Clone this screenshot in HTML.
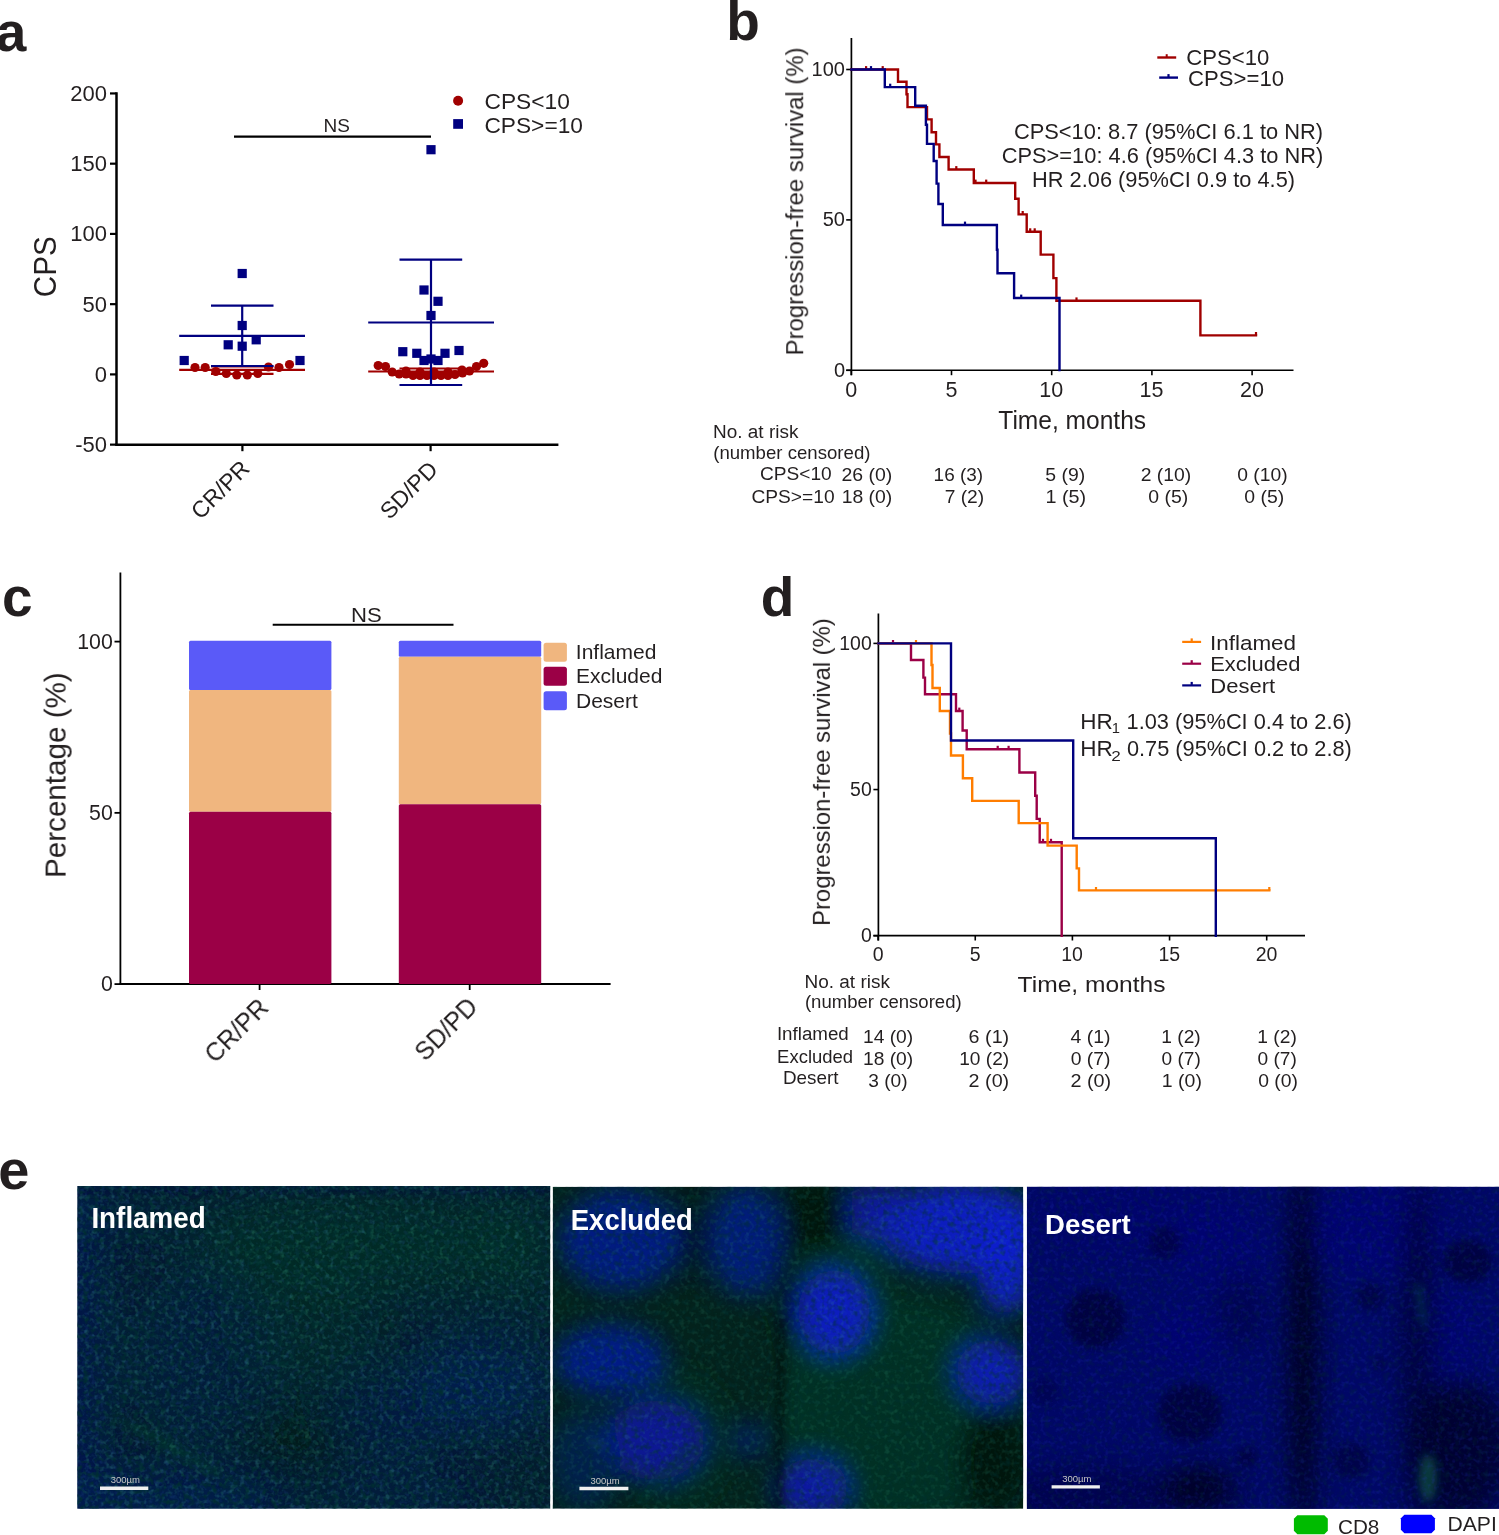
<!DOCTYPE html>
<html><head><meta charset="utf-8"><style>
html,body{margin:0;padding:0;background:#fff;}
svg{display:block;font-family:"Liberation Sans",sans-serif;}
</style></head><body>
<svg width="1499" height="1535" viewBox="0 0 1499 1535">
<defs><clipPath id="c1"><rect x="77.3" y="1186" width="473" height="322.7"/></clipPath><filter id="spg" x="0" y="0" width="100%" height="100%"><feTurbulence type="fractalNoise" baseFrequency="0.2" numOctaves="2" seed="7"/><feColorMatrix type="matrix" values="0 0 0 0 0.04  0 0 0 0 0.36  0 0 0 0 0.22  3.2 0 0 0 -1.55"/></filter><filter id="spb" x="0" y="0" width="100%" height="100%"><feTurbulence type="fractalNoise" baseFrequency="0.2" numOctaves="2" seed="19"/><feColorMatrix type="matrix" values="0 0 0 0 0.03  0 0 0 0 0.12  0 0 0 0 0.42  3.0 0 0 0 -1.45"/></filter><filter id="spk" x="0" y="0" width="100%" height="100%"><feTurbulence type="fractalNoise" baseFrequency="0.18" numOctaves="2" seed="31"/><feColorMatrix type="matrix" values="0 0 0 0 0  0 0 0 0 0.03  0 0 0 0 0.03  3.0 0 0 0 -1.4"/></filter><filter id="bl22" x="-50%" y="-50%" width="200%" height="200%"><feGaussianBlur stdDeviation="22"/></filter><filter id="bl5" x="-50%" y="-50%" width="200%" height="200%"><feGaussianBlur stdDeviation="5"/></filter><clipPath id="c2"><rect x="552.7" y="1186.7" width="470.5" height="322"/></clipPath><filter id="bl12" x="-50%" y="-50%" width="200%" height="200%"><feGaussianBlur stdDeviation="12"/></filter><filter id="bl4" x="-50%" y="-50%" width="200%" height="200%"><feGaussianBlur stdDeviation="4"/></filter><clipPath id="c3"><rect x="1026.8" y="1186.6" width="472.2" height="322.3"/></clipPath><filter id="sp3" x="0" y="0" width="100%" height="100%"><feTurbulence type="fractalNoise" baseFrequency="0.22" numOctaves="2" seed="5"/><feColorMatrix type="matrix" values="0 0 0 0 0.02  0 0 0 0 0.04  0 0 0 0 0.6  3.0 0 0 0 -1.45"/></filter></defs>
<line x1="116.5" y1="92.2" x2="116.5" y2="445.8" stroke="#000" stroke-width="2.5" stroke-linecap="butt"/>
<line x1="115.3" y1="444.8" x2="558.4" y2="444.8" stroke="#000" stroke-width="2.5" stroke-linecap="butt"/>
<line x1="110" y1="93.44" x2="116.5" y2="93.44" stroke="#000" stroke-width="2.2" stroke-linecap="butt"/>
<line x1="110" y1="163.67999999999998" x2="116.5" y2="163.67999999999998" stroke="#000" stroke-width="2.2" stroke-linecap="butt"/>
<line x1="110" y1="233.92" x2="116.5" y2="233.92" stroke="#000" stroke-width="2.2" stroke-linecap="butt"/>
<line x1="110" y1="304.15999999999997" x2="116.5" y2="304.15999999999997" stroke="#000" stroke-width="2.2" stroke-linecap="butt"/>
<line x1="110" y1="374.4" x2="116.5" y2="374.4" stroke="#000" stroke-width="2.2" stroke-linecap="butt"/>
<line x1="110" y1="444.64" x2="116.5" y2="444.64" stroke="#000" stroke-width="2.2" stroke-linecap="butt"/>
<line x1="242.4" y1="444.8" x2="242.4" y2="451.2" stroke="#000" stroke-width="2.2" stroke-linecap="butt"/>
<line x1="430.6" y1="444.8" x2="430.6" y2="451.2" stroke="#000" stroke-width="2.2" stroke-linecap="butt"/>
<line x1="234" y1="136.6" x2="431" y2="136.6" stroke="#000" stroke-width="2.2" stroke-linecap="butt"/>
<circle cx="458.1" cy="100.8" r="5" fill="#a00000"/>
<rect x="453.2" y="119.1" width="9.8" height="9.7" fill="#000080"/>
<circle cx="195" cy="367.5" r="4.6" fill="#a00000"/>
<circle cx="205.2" cy="367.5" r="4.6" fill="#a00000"/>
<circle cx="215.8" cy="371.5" r="4.6" fill="#a00000"/>
<circle cx="226.3" cy="373.5" r="4.6" fill="#a00000"/>
<circle cx="236.8" cy="375" r="4.6" fill="#a00000"/>
<circle cx="247.3" cy="375" r="4.6" fill="#a00000"/>
<circle cx="257.8" cy="373.5" r="4.6" fill="#a00000"/>
<circle cx="268.5" cy="367" r="4.6" fill="#a00000"/>
<circle cx="279" cy="367.5" r="4.6" fill="#a00000"/>
<circle cx="289.5" cy="364.5" r="4.6" fill="#a00000"/>
<line x1="179.2" y1="369.8" x2="305" y2="369.8" stroke="#a00000" stroke-width="2.2" stroke-linecap="butt"/>
<line x1="211" y1="373.8" x2="273.5" y2="373.8" stroke="#a00000" stroke-width="2.2" stroke-linecap="butt"/>
<line x1="211" y1="366.5" x2="273.5" y2="366.5" stroke="#a00000" stroke-width="2.2" stroke-linecap="butt"/>
<circle cx="378.2" cy="365.5" r="4.6" fill="#a00000"/>
<circle cx="385.5" cy="366.5" r="4.6" fill="#a00000"/>
<circle cx="392.2" cy="372" r="4.6" fill="#a00000"/>
<circle cx="399.2" cy="374" r="4.6" fill="#a00000"/>
<circle cx="406" cy="374" r="4.6" fill="#a00000"/>
<circle cx="413" cy="375.5" r="4.6" fill="#a00000"/>
<circle cx="420" cy="375.5" r="4.6" fill="#a00000"/>
<circle cx="427" cy="375.5" r="4.6" fill="#a00000"/>
<circle cx="434" cy="375.5" r="4.6" fill="#a00000"/>
<circle cx="441" cy="375.5" r="4.6" fill="#a00000"/>
<circle cx="448" cy="375.5" r="4.6" fill="#a00000"/>
<circle cx="455" cy="374.5" r="4.6" fill="#a00000"/>
<circle cx="462.5" cy="373" r="4.6" fill="#a00000"/>
<circle cx="469.5" cy="371" r="4.6" fill="#a00000"/>
<circle cx="476.5" cy="366.5" r="4.6" fill="#a00000"/>
<circle cx="483.7" cy="363.3" r="4.6" fill="#a00000"/>
<circle cx="406" cy="371" r="4.6" fill="#a00000"/>
<circle cx="420" cy="372" r="4.6" fill="#a00000"/>
<circle cx="434" cy="372" r="4.6" fill="#a00000"/>
<circle cx="448" cy="372" r="4.6" fill="#a00000"/>
<circle cx="462" cy="370" r="4.6" fill="#a00000"/>
<line x1="368.2" y1="371.5" x2="494" y2="371.5" stroke="#a00000" stroke-width="2.2" stroke-linecap="butt"/>
<line x1="399.5" y1="368.5" x2="462.2" y2="368.5" stroke="#a00000" stroke-width="2.2" stroke-linecap="butt"/>
<rect x="237.6" y="268.9" width="9.2" height="9.2" fill="#000080"/>
<rect x="237.6" y="320.9" width="9.2" height="9.2" fill="#000080"/>
<rect x="223.6" y="340.2" width="9.2" height="9.2" fill="#000080"/>
<rect x="237.6" y="341.6" width="9.2" height="9.2" fill="#000080"/>
<rect x="251.6" y="335.2" width="9.2" height="9.2" fill="#000080"/>
<rect x="179.6" y="355.9" width="9.2" height="9.2" fill="#000080"/>
<rect x="295.4" y="355.9" width="9.2" height="9.2" fill="#000080"/>
<line x1="179.2" y1="335.8" x2="305" y2="335.8" stroke="#000080" stroke-width="2.2" stroke-linecap="butt"/>
<line x1="211" y1="305.7" x2="273.5" y2="305.7" stroke="#000080" stroke-width="2.2" stroke-linecap="butt"/>
<line x1="211" y1="366" x2="273.5" y2="366" stroke="#000080" stroke-width="2.2" stroke-linecap="butt"/>
<line x1="242.2" y1="305.7" x2="242.2" y2="366" stroke="#000080" stroke-width="2.2" stroke-linecap="butt"/>
<rect x="426.4" y="145.1" width="9.2" height="9.2" fill="#000080"/>
<rect x="419.4" y="285.4" width="9.2" height="9.2" fill="#000080"/>
<rect x="433.4" y="296.7" width="9.2" height="9.2" fill="#000080"/>
<rect x="426.4" y="310.9" width="9.2" height="9.2" fill="#000080"/>
<rect x="398.2" y="347.1" width="9.2" height="9.2" fill="#000080"/>
<rect x="412.2" y="348.7" width="9.2" height="9.2" fill="#000080"/>
<rect x="419.4" y="355.9" width="9.2" height="9.2" fill="#000080"/>
<rect x="426.4" y="354.4" width="9.2" height="9.2" fill="#000080"/>
<rect x="433.4" y="355.9" width="9.2" height="9.2" fill="#000080"/>
<rect x="440.4" y="348.7" width="9.2" height="9.2" fill="#000080"/>
<rect x="454.4" y="345.9" width="9.2" height="9.2" fill="#000080"/>
<line x1="399.5" y1="259.7" x2="462.2" y2="259.7" stroke="#000080" stroke-width="2.2" stroke-linecap="butt"/>
<line x1="368.2" y1="322.5" x2="494" y2="322.5" stroke="#000080" stroke-width="2.2" stroke-linecap="butt"/>
<line x1="399.5" y1="385" x2="462.2" y2="385" stroke="#000080" stroke-width="2.2" stroke-linecap="butt"/>
<line x1="431" y1="259.7" x2="431" y2="385" stroke="#000080" stroke-width="2.2" stroke-linecap="butt"/>
<line x1="851.4" y1="38" x2="851.4" y2="375.2" stroke="#000" stroke-width="1.7" stroke-linecap="butt"/>
<line x1="846.2" y1="370.3" x2="1293.5" y2="370.3" stroke="#000" stroke-width="1.6" stroke-linecap="butt"/>
<line x1="846.2" y1="69.5" x2="851.4" y2="69.5" stroke="#000" stroke-width="1.6" stroke-linecap="butt"/>
<line x1="846.2" y1="219.9" x2="851.4" y2="219.9" stroke="#000" stroke-width="1.6" stroke-linecap="butt"/>
<line x1="846.2" y1="370.3" x2="851.4" y2="370.3" stroke="#000" stroke-width="1.6" stroke-linecap="butt"/>
<line x1="851.3" y1="370.3" x2="851.3" y2="375.2" stroke="#000" stroke-width="1.6" stroke-linecap="butt"/>
<line x1="951.5" y1="370.3" x2="951.5" y2="375.2" stroke="#000" stroke-width="1.6" stroke-linecap="butt"/>
<line x1="1051.6999999999998" y1="370.3" x2="1051.6999999999998" y2="375.2" stroke="#000" stroke-width="1.6" stroke-linecap="butt"/>
<line x1="1151.8999999999999" y1="370.3" x2="1151.8999999999999" y2="375.2" stroke="#000" stroke-width="1.6" stroke-linecap="butt"/>
<line x1="1252.1" y1="370.3" x2="1252.1" y2="375.2" stroke="#000" stroke-width="1.6" stroke-linecap="butt"/>
<path d="M851.4,69.5 L898.0,69.5 L898.0,81.8 L906.5,81.8 L906.5,94.3 L907.5,94.3 L907.5,107.1 L927.0,107.1 L927.0,119.4 L931.6,119.4 L931.6,132.2 L936.0,132.2 L936.0,144.4 L939.4,144.4 L939.4,157.0 L948.6,157.0 L948.6,169.5 L973.8,169.5 L973.8,183.0 L1015.2,183.0 L1015.2,198.7 L1018.6,198.7 L1018.6,214.4 L1026.7,214.4 L1026.7,231.7 L1040.7,231.7 L1040.7,254.6 L1053.4,254.6 L1053.4,278.1 L1056.4,278.1 L1056.4,300.8 L1200.4,300.8 L1200.4,335.4 L1256.0,335.4" fill="none" stroke="#a00000" stroke-width="2.4" stroke-linejoin="miter" stroke-linecap="square"/>
<rect x="865.0" y="66.1" width="2.2" height="3.4" fill="#a00000"/>
<rect x="881.6" y="66.1" width="2.2" height="3.4" fill="#a00000"/>
<rect x="955.2" y="166.1" width="2.2" height="3.4" fill="#a00000"/>
<rect x="974.4" y="179.6" width="2.2" height="3.4" fill="#a00000"/>
<rect x="985.1" y="179.6" width="2.2" height="3.4" fill="#a00000"/>
<rect x="1021.6" y="211.0" width="2.2" height="3.4" fill="#a00000"/>
<rect x="1029.1" y="228.3" width="2.2" height="3.4" fill="#a00000"/>
<rect x="1033.6" y="228.3" width="2.2" height="3.4" fill="#a00000"/>
<rect x="1075.4" y="297.4" width="2.2" height="3.4" fill="#a00000"/>
<rect x="1254.9" y="332.0" width="2.2" height="3.4" fill="#a00000"/>
<path d="M851.4,69.5 L884.8,69.5 L884.8,87.1 L915.2,87.1 L915.2,105.8 L925.9,105.8 L925.9,124.7 L927.0,124.7 L927.0,143.9 L933.7,143.9 L933.7,161.0 L936.6,161.0 L936.6,183.6 L938.4,183.6 L938.4,204.0 L942.8,204.0 L942.8,225.0 L996.9,225.0 L996.9,249.7 L997.5,249.7 L997.5,273.3 L1014.1,273.3 L1014.1,298.0 L1059.5,298.0 L1059.5,370.0" fill="none" stroke="#000080" stroke-width="2.4" stroke-linejoin="miter" stroke-linecap="square"/>
<rect x="869.9" y="66.1" width="2.2" height="3.4" fill="#000080"/>
<rect x="889.1" y="83.7" width="2.2" height="3.4" fill="#000080"/>
<rect x="963.9" y="221.6" width="2.2" height="3.4" fill="#000080"/>
<rect x="1020.1" y="294.6" width="2.2" height="3.4" fill="#000080"/>
<line x1="1157.3" y1="57.5" x2="1176.2" y2="57.5" stroke="#a00000" stroke-width="2.4" stroke-linecap="butt"/>
<rect x="1165.7" y="54.2" width="2" height="3" fill="#a00000"/>
<line x1="1159.2" y1="77.6" x2="1178" y2="77.6" stroke="#000080" stroke-width="2.4" stroke-linecap="butt"/>
<rect x="1167.4" y="74.1" width="2.2" height="3" fill="#000080"/>
<line x1="120.4" y1="572.5" x2="120.4" y2="985" stroke="#000" stroke-width="1.8" stroke-linecap="butt"/>
<line x1="119.5" y1="984.1" x2="610.6" y2="984.1" stroke="#000" stroke-width="2.0" stroke-linecap="butt"/>
<line x1="114.5" y1="641.6" x2="120.4" y2="641.6" stroke="#000" stroke-width="1.8" stroke-linecap="butt"/>
<line x1="114.5" y1="812.85" x2="120.4" y2="812.85" stroke="#000" stroke-width="1.8" stroke-linecap="butt"/>
<line x1="114.5" y1="984.1" x2="120.4" y2="984.1" stroke="#000" stroke-width="1.8" stroke-linecap="butt"/>
<line x1="259.6" y1="984.1" x2="259.6" y2="990" stroke="#000" stroke-width="1.8" stroke-linecap="butt"/>
<line x1="469.7" y1="984.1" x2="469.7" y2="990" stroke="#000" stroke-width="1.8" stroke-linecap="butt"/>
<rect x="189" y="640.7" width="142.39999999999998" height="49.299999999999955" rx="1.5" fill="#5a5af8"/>
<rect x="189" y="690" width="142.39999999999998" height="121.79999999999995" rx="1.5" fill="#f0b67f"/>
<rect x="189" y="811.8" width="142.39999999999998" height="172.30000000000007" rx="1.5" fill="#9b0046"/>
<rect x="398.8" y="640.7" width="142.40000000000003" height="16.0" rx="1.5" fill="#5a5af8"/>
<rect x="398.8" y="656.7" width="142.40000000000003" height="147.5999999999999" rx="1.5" fill="#f0b67f"/>
<rect x="398.8" y="804.3" width="142.40000000000003" height="179.80000000000007" rx="1.5" fill="#9b0046"/>
<line x1="272.7" y1="624.7" x2="453.5" y2="624.7" stroke="#000" stroke-width="2.0" stroke-linecap="butt"/>
<rect x="543.6" y="642.7" width="23.3" height="19" rx="2.5" fill="#f0b67f"/>
<rect x="543.6" y="666.7" width="23.3" height="19" rx="2.5" fill="#9b0046"/>
<rect x="543.6" y="691.3" width="23.3" height="19" rx="2.5" fill="#5a5af8"/>
<line x1="878.4" y1="613.4" x2="878.4" y2="940.5" stroke="#000" stroke-width="1.7" stroke-linecap="butt"/>
<line x1="873.4" y1="935.7" x2="1305" y2="935.7" stroke="#000" stroke-width="1.7" stroke-linecap="butt"/>
<line x1="873.4" y1="643.4000000000001" x2="878.4" y2="643.4000000000001" stroke="#000" stroke-width="1.6" stroke-linecap="butt"/>
<line x1="873.4" y1="789.5500000000001" x2="878.4" y2="789.5500000000001" stroke="#000" stroke-width="1.6" stroke-linecap="butt"/>
<line x1="873.4" y1="935.7" x2="878.4" y2="935.7" stroke="#000" stroke-width="1.6" stroke-linecap="butt"/>
<line x1="878.1" y1="935.7" x2="878.1" y2="940.5" stroke="#000" stroke-width="1.6" stroke-linecap="butt"/>
<line x1="975.25" y1="935.7" x2="975.25" y2="940.5" stroke="#000" stroke-width="1.6" stroke-linecap="butt"/>
<line x1="1072.4" y1="935.7" x2="1072.4" y2="940.5" stroke="#000" stroke-width="1.6" stroke-linecap="butt"/>
<line x1="1169.55" y1="935.7" x2="1169.55" y2="940.5" stroke="#000" stroke-width="1.6" stroke-linecap="butt"/>
<line x1="1266.7" y1="935.7" x2="1266.7" y2="940.5" stroke="#000" stroke-width="1.6" stroke-linecap="butt"/>
<path d="M878.4,643.4 L911.0,643.4 L911.0,660.0 L923.4,660.0 L923.4,677.6 L925.0,677.6 L925.0,694.3 L956.0,694.3 L956.0,711.0 L962.6,711.0 L962.6,730.5 L966.7,730.5 L966.7,749.2 L1019.4,749.2 L1019.4,772.5 L1035.2,772.5 L1035.2,795.7 L1036.7,795.7 L1036.7,818.9 L1039.7,818.9 L1039.7,842.2 L1061.7,842.2 L1061.7,935.7" fill="none" stroke="#9b0046" stroke-width="2.4" stroke-linejoin="miter" stroke-linecap="square"/>
<rect x="891.9" y="640.0" width="2.2" height="3.4" fill="#9b0046"/>
<rect x="958.2" y="707.6" width="2.2" height="3.4" fill="#9b0046"/>
<rect x="996.6" y="745.8" width="2.2" height="3.4" fill="#9b0046"/>
<rect x="1007.5" y="745.8" width="2.2" height="3.4" fill="#9b0046"/>
<rect x="1041.9" y="838.8" width="2.2" height="3.4" fill="#9b0046"/>
<rect x="1049.9" y="838.8" width="2.2" height="3.4" fill="#9b0046"/>
<path d="M878.4,643.4 L931.5,643.4 L931.5,665.0 L932.5,665.0 L932.5,688.0 L939.8,688.0 L939.8,711.0 L950.0,711.0 L950.0,733.5 L951.0,733.5 L951.0,755.5 L962.9,755.5 L962.9,778.2 L972.2,778.2 L972.2,800.9 L1018.7,800.9 L1018.7,823.1 L1047.6,823.1 L1047.6,845.6 L1076.7,845.6 L1076.7,868.4 L1079.0,868.4 L1079.0,890.4 L1269.3,890.4" fill="none" stroke="#ff7d00" stroke-width="2.4" stroke-linejoin="miter" stroke-linecap="square"/>
<rect x="914.9" y="640.0" width="2.2" height="3.4" fill="#ff7d00"/>
<rect x="1094.9" y="887.0" width="2.2" height="3.4" fill="#ff7d00"/>
<rect x="1268.2" y="887.0" width="2.2" height="3.4" fill="#ff7d00"/>
<path d="M878.4,643.4 L951.0,643.4 L951.0,740.5 L1073.2,740.5 L1073.2,838.2 L1215.8,838.2 L1215.8,935.7" fill="none" stroke="#000080" stroke-width="2.4" stroke-linejoin="miter" stroke-linecap="square"/>
<line x1="1182.2" y1="641.9" x2="1201.1" y2="641.9" stroke="#ff7d00" stroke-width="2.2" stroke-linecap="butt"/>
<rect x="1190.6" y="638.4" width="2.2" height="3" fill="#ff7d00"/>
<line x1="1182.2" y1="663.7" x2="1201.1" y2="663.7" stroke="#9b0046" stroke-width="2.2" stroke-linecap="butt"/>
<rect x="1190.6" y="660.2" width="2.2" height="3" fill="#9b0046"/>
<line x1="1182.2" y1="685.4" x2="1201.1" y2="685.4" stroke="#000080" stroke-width="2.2" stroke-linecap="butt"/>
<rect x="1190.6" y="681.9" width="2.2" height="3" fill="#000080"/>
<g clip-path="url(#c1)"><rect x="77.3" y="1186" width="473" height="322.7" fill="#031c2e"/><g filter="url(#bl22)"><rect x="55" y="1180" width="45" height="340" fill="#031a58" fill-opacity="0.8"/><ellipse cx="360" cy="1245" rx="170" ry="50" fill="#05361f" fill-opacity="0.55"/><ellipse cx="300" cy="1330" rx="80" ry="60" fill="#05361f" fill-opacity="0.3"/><ellipse cx="480" cy="1385" rx="70" ry="50" fill="#041a60" fill-opacity="0.6"/><ellipse cx="160" cy="1500" rx="140" ry="30" fill="#041a5a" fill-opacity="0.75"/><ellipse cx="400" cy="1495" rx="90" ry="20" fill="#041a55" fill-opacity="0.5"/><ellipse cx="200" cy="1360" rx="70" ry="90" fill="#031a50" fill-opacity="0.35"/><ellipse cx="390" cy="1420" rx="55" ry="45" fill="#031a55" fill-opacity="0.45"/><ellipse cx="290" cy="1450" rx="70" ry="40" fill="#01120c" fill-opacity="0.4"/><ellipse cx="520" cy="1250" rx="40" ry="60" fill="#05361f" fill-opacity="0.45"/><ellipse cx="130" cy="1215" rx="60" ry="30" fill="#021440" fill-opacity="0.4"/></g><g filter="url(#bl5)"><rect x="77" y="1183" width="480" height="8" fill="#020c40" fill-opacity="0.6"/><line x1="116" y1="1418" x2="219" y2="1473" stroke="#0a4a22" stroke-width="6" stroke-opacity="0.5" stroke-linecap="round"/><line x1="140" y1="1425" x2="240" y2="1490" stroke="#0a4020" stroke-width="4" stroke-opacity="0.4" stroke-linecap="round"/></g><rect x="77.3" y="1186" width="473" height="322.7" filter="url(#spg)" opacity="0.3"/><rect x="77.3" y="1186" width="473" height="322.7" filter="url(#spb)" opacity="0.22"/><rect x="77.3" y="1186" width="473" height="322.7" filter="url(#spk)" opacity="0.85"/></g>
<g clip-path="url(#c2)"><rect x="552.7" y="1186.7" width="470.5" height="322" fill="#03221c"/><g filter="url(#bl12)"><ellipse cx="900" cy="1410" rx="120" ry="110" fill="#053424" fill-opacity="0.8"/><ellipse cx="830" cy="1290" rx="60" ry="85" fill="#063a28" fill-opacity="0.6"/><ellipse cx="680" cy="1440" rx="50" ry="70" fill="#053424" fill-opacity="0.5"/><ellipse cx="620" cy="1240" rx="60" ry="50" fill="#081a98" fill-opacity="0.8"/><ellipse cx="745" cy="1240" rx="35" ry="55" fill="#08189a" fill-opacity="0.75"/><ellipse cx="610" cy="1360" rx="55" ry="35" fill="#0818a0" fill-opacity="0.8"/><ellipse cx="655" cy="1440" rx="50" ry="40" fill="#0818a8" fill-opacity="0.85"/><ellipse cx="585" cy="1460" rx="35" ry="50" fill="#06206a" fill-opacity="0.6"/><ellipse cx="750" cy="1440" rx="16" ry="16" fill="#08189a" fill-opacity="0.6"/><ellipse cx="834" cy="1312" rx="36" ry="42" fill="#0a1ac8" fill-opacity="0.95"/><ellipse cx="960" cy="1228" rx="80" ry="45" fill="#0a1cc8" fill-opacity="0.95"/><ellipse cx="1005" cy="1265" rx="28" ry="50" fill="#0a1cd0" fill-opacity="0.9"/><ellipse cx="880" cy="1212" rx="40" ry="28" fill="#0a1ab0" fill-opacity="0.85"/><ellipse cx="992" cy="1372" rx="36" ry="32" fill="#0a1ac0" fill-opacity="0.9"/><ellipse cx="812" cy="1488" rx="36" ry="30" fill="#0818b0" fill-opacity="0.9"/><ellipse cx="814" cy="1214" rx="38" ry="40" fill="#011510" fill-opacity="1"/><ellipse cx="786" cy="1290" rx="13" ry="50" fill="#011410" fill-opacity="1"/><ellipse cx="693" cy="1235" rx="14" ry="50" fill="#011410" fill-opacity="0.8"/><ellipse cx="995" cy="1462" rx="36" ry="55" fill="#011410" fill-opacity="1"/></g><g filter="url(#bl4)"><line x1="640" y1="1500" x2="690" y2="1448" stroke="#0a3a2a" stroke-width="6" stroke-opacity="0.6" stroke-linecap="round"/><line x1="781" y1="1320" x2="778" y2="1509" stroke="#02120e" stroke-width="5" stroke-opacity="0.85" stroke-linecap="round"/><line x1="590" y1="1442" x2="605" y2="1446" stroke="#3aa0a0" stroke-width="2" stroke-opacity="0.6" stroke-linecap="round"/></g><rect x="552.7" y="1186.7" width="470.5" height="322" filter="url(#spg)" opacity="0.18"/><rect x="552.7" y="1186.7" width="470.5" height="322" filter="url(#spk)" opacity="0.5"/></g>
<g clip-path="url(#c3)"><rect x="1026.8" y="1186.6" width="472.2" height="322.3" fill="#000766"/><g filter="url(#bl12)"><ellipse cx="1140" cy="1220" rx="110" ry="35" fill="#000874" fill-opacity="0.4"/><ellipse cx="1215" cy="1250" rx="50" ry="40" fill="#000a7c" fill-opacity="0.35"/><ellipse cx="1184" cy="1337" rx="35" ry="30" fill="#000a78" fill-opacity="0.6"/><ellipse cx="1380" cy="1230" rx="70" ry="45" fill="#000a7c" fill-opacity="0.5"/><ellipse cx="1440" cy="1330" rx="40" ry="50" fill="#000978" fill-opacity="0.5"/><ellipse cx="1303" cy="1350" rx="16" ry="190" fill="#00011c" fill-opacity="0.9"/><ellipse cx="1418" cy="1350" rx="18" ry="180" fill="#000330" fill-opacity="0.7"/><ellipse cx="1460" cy="1450" rx="50" ry="70" fill="#000228" fill-opacity="0.8"/><ellipse cx="1090" cy="1495" rx="90" ry="30" fill="#000440" fill-opacity="0.6"/><ellipse cx="1200" cy="1490" rx="40" ry="25" fill="#00011a" fill-opacity="0.6"/><ellipse cx="1195" cy="1488" rx="30" ry="20" fill="#000224" fill-opacity="0.7"/><ellipse cx="1240" cy="1310" rx="25" ry="40" fill="#000444" fill-opacity="0.5"/></g><g filter="url(#bl4)"><ellipse cx="1164.8" cy="1242.8" rx="16" ry="16" fill="#000336" fill-opacity="0.6"/><ellipse cx="1095.4" cy="1318.5" rx="30" ry="30" fill="#000232" fill-opacity="0.7"/><ellipse cx="1370" cy="1296.4" rx="14" ry="14" fill="#000336" fill-opacity="0.6"/><ellipse cx="1467.8" cy="1261.7" rx="24" ry="22" fill="#000232" fill-opacity="0.7"/><ellipse cx="1190" cy="1413.2" rx="32" ry="30" fill="#000232" fill-opacity="0.7"/><ellipse cx="1351" cy="1460.5" rx="19" ry="18" fill="#000336" fill-opacity="0.6"/><ellipse cx="1247" cy="1457" rx="10" ry="10" fill="#000336" fill-opacity="0.7"/><ellipse cx="1379" cy="1363" rx="6" ry="6" fill="#000336" fill-opacity="0.6"/><ellipse cx="1045" cy="1391" rx="13" ry="13" fill="#000440" fill-opacity="0.5"/><line x1="1418" y1="1285" x2="1424" y2="1325" stroke="#147048" stroke-width="3" stroke-opacity="0.7" stroke-linecap="round"/><ellipse cx="1428" cy="1478" rx="9" ry="24" fill="#178050" fill-opacity="0.45"/></g><rect x="1026.8" y="1186.6" width="472.2" height="322.3" filter="url(#sp3)" opacity="0.2"/><rect x="1026.8" y="1186.6" width="472.2" height="322.3" filter="url(#spk)" opacity="0.3"/></g>
<line x1="100" y1="1488.2" x2="148.3" y2="1488.2" stroke="#f0f0f0" stroke-width="3.4" stroke-linecap="butt"/>
<line x1="579.4" y1="1488.5" x2="628.4" y2="1488.5" stroke="#f0f0f0" stroke-width="3.4" stroke-linecap="butt"/>
<line x1="1051.6" y1="1486.9" x2="1099.9" y2="1486.9" stroke="#f0f0f0" stroke-width="3.4" stroke-linecap="butt"/>
<polygon points="1297.4,1515.3 1324.3,1515.3 1327.8,1518.8 1327.8,1530.8 1324.3,1534.3 1297.4,1534.3 1293.9,1530.8 1293.9,1518.8" fill="#00bb00"/>
<polygon points="1404.4,1514.7 1431.4,1514.7 1434.9,1518.2 1434.9,1529.8 1431.4,1533.3 1404.4,1533.3 1400.9,1529.8 1400.9,1518.2" fill="#0000ff"/>
<g opacity="0.999"><text transform="translate(-4.17,50.70)" font-size="55" font-weight="bold" fill="#231f20">a</text>
<text transform="translate(70.34,100.84)" font-size="22" fill="#231f20">200</text>
<text transform="translate(70.34,171.08)" font-size="22" fill="#231f20">150</text>
<text transform="translate(70.34,241.32)" font-size="22" fill="#231f20">100</text>
<text transform="translate(82.55,311.56)" font-size="22" fill="#231f20">50</text>
<text transform="translate(94.87,381.80)" font-size="22" fill="#231f20">0</text>
<text transform="translate(75.29,452.04)" font-size="22" fill="#231f20">-50</text>
<text transform="translate(56.40,297.18) rotate(-90) scale(0.9702,1)" font-size="30.5" fill="#231f20">CPS</text>
<text transform="translate(323.48,132.40)" font-size="19" fill="#231f20">NS</text>
<text transform="translate(484.46,109.20) scale(1.0344,1)" font-size="22" fill="#231f20">CPS&lt;10</text>
<text transform="translate(484.46,132.50) scale(1.0322,1)" font-size="22" fill="#231f20">CPS&gt;=10</text>
<text transform="translate(200.48,520.56) rotate(-45) scale(1.0000,1)" font-size="23" fill="#231f20">CR/PR</text>
<text transform="translate(389.43,520.62) rotate(-45) scale(1.0000,1)" font-size="23" fill="#231f20">SD/PD</text>
<text transform="translate(726.32,39.80)" font-size="55" font-weight="bold" fill="#231f20">b</text>
<text transform="translate(811.60,75.90)" font-size="20" fill="#231f20">100</text>
<text transform="translate(822.70,226.30)" font-size="20" fill="#231f20">50</text>
<text transform="translate(833.90,376.70)" font-size="20" fill="#231f20">0</text>
<text transform="translate(845.33,397.40)" font-size="21.5" fill="#231f20">0</text>
<text transform="translate(945.53,397.40)" font-size="21.5" fill="#231f20">5</text>
<text transform="translate(1039.34,397.40)" font-size="21.5" fill="#231f20">10</text>
<text transform="translate(1139.59,397.40)" font-size="21.5" fill="#231f20">15</text>
<text transform="translate(1240.01,397.40)" font-size="21.5" fill="#231f20">20</text>
<text transform="translate(998.31,428.90) scale(0.9831,1)" font-size="25" fill="#231f20">Time, months</text>
<text transform="translate(803.20,355.41) rotate(-90) scale(0.9958,1)" font-size="24" fill="#231f20">Progression-free survival (%)</text>
<text transform="translate(1186.29,65.40) scale(1.0092,1)" font-size="21.9" fill="#231f20">CPS&lt;10</text>
<text transform="translate(1188.09,85.80) scale(1.0101,1)" font-size="21.9" fill="#231f20">CPS&gt;=10</text>
<text transform="translate(1013.91,138.80) scale(1.0080,1)" font-size="21.7" fill="#231f20">CPS&lt;10: 8.7 (95%CI 6.1 to NR)</text>
<text transform="translate(1001.71,162.60) scale(1.0065,1)" font-size="21.7" fill="#231f20">CPS&gt;=10: 4.6 (95%CI 4.3 to NR)</text>
<text transform="translate(1032.06,187.00) scale(1.0048,1)" font-size="21.7" fill="#231f20">HR 2.06 (95%CI 0.9 to 4.5)</text>
<text transform="translate(713.08,437.70) scale(1.0304,1)" font-size="18.4" fill="#231f20">No. at risk</text>
<text transform="translate(713.18,459.00) scale(1.0125,1)" font-size="18.4" fill="#231f20">(number censored)</text>
<text transform="translate(760.04,480.40) scale(1.0395,1)" font-size="18.4" fill="#231f20">CPS&lt;10</text>
<text transform="translate(751.44,502.80) scale(1.0421,1)" font-size="18.4" fill="#231f20">CPS&gt;=10</text>
<text transform="translate(841.43,480.60) scale(1.0587,1)" font-size="18.4" fill="#231f20">26 (0)</text>
<text transform="translate(933.58,480.60) scale(1.0321,1)" font-size="18.4" fill="#231f20">16 (3)</text>
<text transform="translate(1045.22,480.60) scale(1.0564,1)" font-size="18.4" fill="#231f20">5 (9)</text>
<text transform="translate(1140.63,480.60) scale(1.0522,1)" font-size="18.4" fill="#231f20">2 (10)</text>
<text transform="translate(1237.23,480.60) scale(1.0480,1)" font-size="18.4" fill="#231f20">0 (10)</text>
<text transform="translate(841.65,502.90) scale(1.0540,1)" font-size="18.4" fill="#231f20">18 (0)</text>
<text transform="translate(944.64,502.90) scale(1.0450,1)" font-size="18.4" fill="#231f20">7 (2)</text>
<text transform="translate(1045.52,502.90) scale(1.0756,1)" font-size="18.4" fill="#231f20">1 (5)</text>
<text transform="translate(1148.22,502.90) scale(1.0564,1)" font-size="18.4" fill="#231f20">0 (5)</text>
<text transform="translate(1244.22,502.90) scale(1.0564,1)" font-size="18.4" fill="#231f20">0 (5)</text>
<text transform="translate(1.90,616.20)" font-size="55" font-weight="bold" fill="#231f20">c</text>
<text transform="translate(77.22,648.80) scale(0.9700,1)" font-size="22" fill="#231f20">100</text>
<text transform="translate(89.06,820.05) scale(0.9700,1)" font-size="22" fill="#231f20">50</text>
<text transform="translate(101.01,991.30) scale(0.9700,1)" font-size="22" fill="#231f20">0</text>
<text transform="translate(65.60,877.97) rotate(-90) scale(0.9875,1)" font-size="30" fill="#231f20">Percentage (%)</text>
<text transform="translate(351.03,621.70) scale(1.0540,1)" font-size="21" fill="#231f20">NS</text>
<text transform="translate(575.81,659.30)" font-size="21" fill="#231f20">Inflamed</text>
<text transform="translate(576.02,683.30)" font-size="21" fill="#231f20">Excluded</text>
<text transform="translate(576.02,708.30)" font-size="21" fill="#231f20">Desert</text>
<text transform="translate(215.09,1064.26) rotate(-45) scale(1.0000,1)" font-size="25" fill="#231f20">CR/PR</text>
<text transform="translate(425.17,1062.28) rotate(-45) scale(1.0000,1)" font-size="25" fill="#231f20">SD/PD</text>
<text transform="translate(760.80,616.20)" font-size="55" font-weight="bold" fill="#231f20">d</text>
<text transform="translate(839.26,649.70) scale(0.9500,1)" font-size="20.5" fill="#231f20">100</text>
<text transform="translate(850.06,795.85) scale(0.9500,1)" font-size="20.5" fill="#231f20">50</text>
<text transform="translate(860.97,942.00) scale(0.9500,1)" font-size="20.5" fill="#231f20">0</text>
<text transform="translate(872.69,960.60)" font-size="19.5" fill="#231f20">0</text>
<text transform="translate(969.84,960.60)" font-size="19.5" fill="#231f20">5</text>
<text transform="translate(1061.19,960.60)" font-size="19.5" fill="#231f20">10</text>
<text transform="translate(1158.39,960.60)" font-size="19.5" fill="#231f20">15</text>
<text transform="translate(1255.73,960.60)" font-size="19.5" fill="#231f20">20</text>
<text transform="translate(1017.61,991.70) scale(1.0930,1)" font-size="22.5" fill="#231f20">Time, months</text>
<text transform="translate(829.90,925.91) rotate(-90) scale(0.9828,1)" font-size="24.3" fill="#231f20">Progression-free survival (%)</text>
<text transform="translate(1209.98,649.50) scale(1.0843,1)" font-size="20.7" fill="#231f20">Inflamed</text>
<text transform="translate(1210.25,670.90) scale(1.0587,1)" font-size="20.7" fill="#231f20">Excluded</text>
<text transform="translate(1210.24,692.50) scale(1.0642,1)" font-size="20.7" fill="#231f20">Desert</text>
<text transform="translate(1080.20,728.80) scale(0.9960,1)" font-size="22.6" fill="#231f20">HR</text>
<text transform="translate(1111.69,732.60)" font-size="14.8" fill="#231f20">1</text>
<text transform="translate(1126.56,728.80) scale(0.9648,1)" font-size="22.6" fill="#231f20">1.03 (95%CI 0.4 to 2.6)</text>
<text transform="translate(1080.20,756.20) scale(0.9960,1)" font-size="22.6" fill="#231f20">HR</text>
<text transform="translate(1111.34,760.70) scale(1.1583,1)" font-size="14.8" fill="#231f20">2</text>
<text transform="translate(1126.93,756.20) scale(0.9632,1)" font-size="22.6" fill="#231f20">0.75 (95%CI 0.2 to 2.8)</text>
<text transform="translate(804.48,987.60) scale(1.0329,1)" font-size="18.4" fill="#231f20">No. at risk</text>
<text transform="translate(804.89,1008.00) scale(1.0093,1)" font-size="18.4" fill="#231f20">(number censored)</text>
<text transform="translate(776.91,1040.40) scale(1.0190,1)" font-size="18.4" fill="#231f20">Inflamed</text>
<text transform="translate(777.12,1062.60) scale(1.0048,1)" font-size="18.4" fill="#231f20">Excluded</text>
<text transform="translate(782.89,1084.40) scale(1.0261,1)" font-size="18.4" fill="#231f20">Desert</text>
<text transform="translate(862.96,1043.30) scale(1.0452,1)" font-size="18.4" fill="#231f20">14 (0)</text>
<text transform="translate(968.61,1043.30) scale(1.0730,1)" font-size="18.4" fill="#231f20">6 (1)</text>
<text transform="translate(1070.41,1043.30) scale(1.0594,1)" font-size="18.4" fill="#231f20">4 (1)</text>
<text transform="translate(1161.26,1043.30) scale(1.0445,1)" font-size="18.4" fill="#231f20">1 (2)</text>
<text transform="translate(1257.36,1043.30) scale(1.0445,1)" font-size="18.4" fill="#231f20">1 (2)</text>
<text transform="translate(862.96,1065.30) scale(1.0452,1)" font-size="18.4" fill="#231f20">18 (0)</text>
<text transform="translate(959.16,1065.30) scale(1.0408,1)" font-size="18.4" fill="#231f20">10 (2)</text>
<text transform="translate(1070.73,1065.30) scale(1.0508,1)" font-size="18.4" fill="#231f20">0 (7)</text>
<text transform="translate(1161.54,1065.30) scale(1.0369,1)" font-size="18.4" fill="#231f20">0 (7)</text>
<text transform="translate(1257.53,1065.30) scale(1.0397,1)" font-size="18.4" fill="#231f20">0 (7)</text>
<text transform="translate(868.23,1087.00) scale(1.0397,1)" font-size="18.4" fill="#231f20">3 (0)</text>
<text transform="translate(968.61,1087.00) scale(1.0730,1)" font-size="18.4" fill="#231f20">2 (0)</text>
<text transform="translate(1070.51,1087.00) scale(1.0758,1)" font-size="18.4" fill="#231f20">2 (0)</text>
<text transform="translate(1161.84,1087.00) scale(1.0587,1)" font-size="18.4" fill="#231f20">1 (0)</text>
<text transform="translate(1258.23,1087.00) scale(1.0508,1)" font-size="18.4" fill="#231f20">0 (0)</text>
<text transform="translate(-1.72,1189.30)" font-size="56" font-weight="bold" fill="#231f20">e</text>
<text transform="translate(91.39,1227.70) scale(0.9700,1)" font-size="28.7" font-weight="bold" fill="#ffffff">Inflamed</text>
<text transform="translate(570.81,1230.00) scale(0.9470,1)" font-size="29" font-weight="bold" fill="#ffffff">Excluded</text>
<text transform="translate(1045.11,1234.10) scale(0.9756,1)" font-size="28.2" font-weight="bold" fill="#ffffff">Desert</text>
<text transform="translate(110.66,1483.20)" font-size="9.5" fill="#c8c8c8">300µm</text>
<text transform="translate(590.41,1483.50)" font-size="9.5" fill="#c8c8c8">300µm</text>
<text transform="translate(1062.26,1481.90)" font-size="9.5" fill="#c8c8c8">300µm</text>
<text transform="translate(1337.96,1533.60)" font-size="20.7" fill="#231f20">CD8</text>
<text transform="translate(1447.51,1531.40) scale(1.0221,1)" font-size="20.7" fill="#231f20">DAPI</text></g>
</svg>
</body></html>
